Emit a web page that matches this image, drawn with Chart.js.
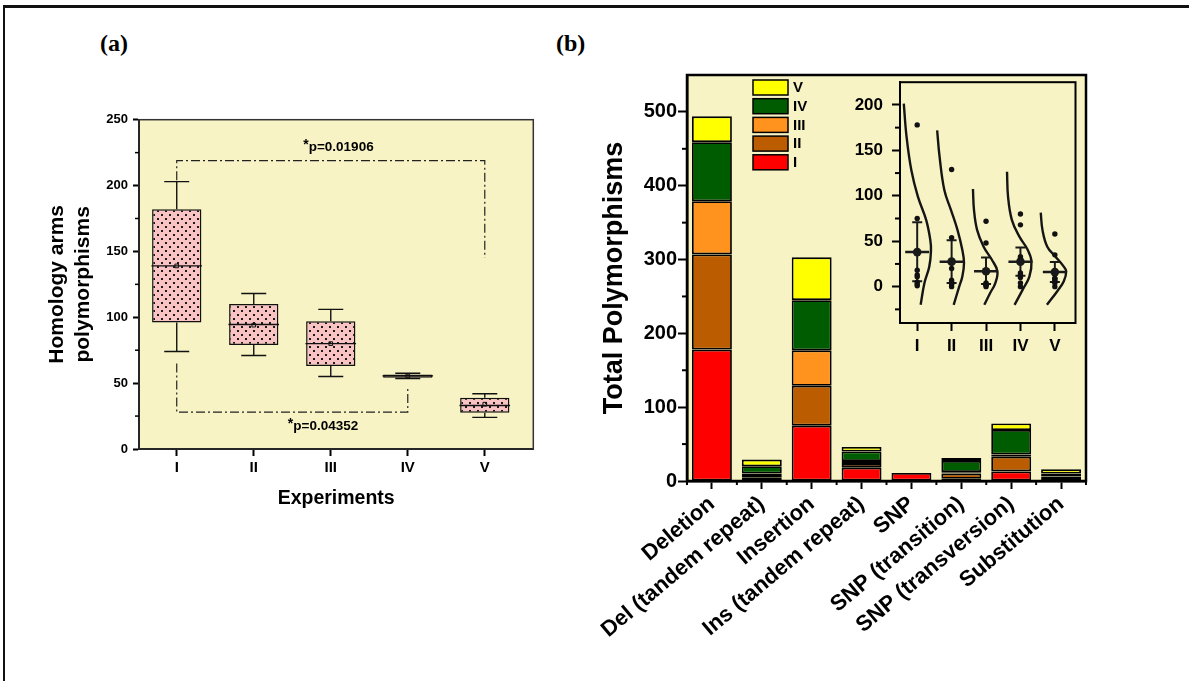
<!DOCTYPE html>
<html><head><meta charset="utf-8">
<script src="https://cdn.jsdelivr.net/npm/chart.js@4.4.1/dist/chart.umd.min.js"></script>
<style>
body{margin:0;background:#fff;width:1189px;height:681px;overflow:hidden;position:relative;font-family:'Liberation Sans',Arial,sans-serif;}
#frame{position:absolute;left:3px;top:5px;width:1300px;height:800px;border-top:3px solid #111;border-left:2px solid #111;}
.panel{position:absolute;font:bold 24px 'Liberation Serif','Times New Roman',serif;color:#000;}
canvas{position:absolute;}
</style></head><body>
<div id="frame"></div>
<div class="panel" style="left:100px;top:30px">(a)</div>
<div class="panel" style="left:556px;top:30px">(b)</div>
<canvas id="cA" width="520" height="427" style="left:40px;top:93px"></canvas>
<canvas id="cB" width="540" height="620" style="left:570px;top:60px"></canvas>
<canvas id="cC" width="255" height="302" style="left:835px;top:63px"></canvas>
<script>
// ---------- Panel (a) data ----------
const experiments = ['I', 'II', 'III', 'IV', 'V'];
const boxMin    = [74, 71, 55, 53.5, 24];
const boxQ1     = [96, 79, 63, 54, 27.5];
const boxMedian = [139, 94.5, 80, 55.5, 33];
const boxMean   = [139, 94, 80, 55.5, 34];
const boxQ3     = [182, 110, 97, 56.5, 39];
const boxMax    = [203, 118, 106, 57.5, 42];
const bracketTopX = [0, 0, 4, 4];
const bracketTopY = [204, 219, 219, 145];
const bracketBotX = [0, 0, 3, 3];
const bracketBotY = [65, 28, 28, 46];
const pTexts = ['p=0.01906', 'p=0.04352'];
const pTextX = [2.1, 1.9];
const pTextY = [229, 17];
const yTicksA = [0, 50, 100, 150, 200, 250];

// ---------- Panel (b) data ----------
const categories = ['Deletion', 'Del (tandem repeat)', 'Insertion', 'Ins (tandem repeat)', 'SNP', 'SNP (transition)', 'SNP (transversion)', 'Substitution'];
const expI   = [178, 5, 75, 18, 11, 3, 13, 1];
const expII  = [129, 3, 54, 5, 0, 7, 20, 3];
const expIII = [72, 2, 48, 4, 0, 2, 3, 2];
const expIV  = [80, 10, 68, 13, 0, 15, 33, 4];
const expV   = [35, 9, 58, 6, 0, 4, 9, 6];
const yTicksB = [0, 100, 200, 300, 400, 500];

// ---------- Inset data ----------
const insetMean    = [38, 27.5, 17, 27.5, 16];
const insetErrLow  = [6, 4, 3, 12, 5];
const insetErrHigh = [71, 51, 32, 43, 27];
const curveI_dx   = [-0.39, -0.31, -0.17, 0.02, 0.26, 0.38, 0.40, 0.35, 0.21, 0.10];
const curveI_y    = [201.5, 165, 128, 99, 73.5, 51.5, 39, 22, 4, -20];
const curveII_dx  = [-0.42, -0.35, -0.21, -0.02, 0.17, 0.31, 0.36, 0.31, 0.22, 0.06];
const curveII_y   = [172, 143, 106, 84.5, 62.5, 40.6, 26, 11, 0, -20];
const curveIII_dx = [-0.38, -0.35, -0.26, -0.07, 0.17, 0.33, 0.27, 0.12, -0.05];
const curveIII_y  = [107.5, 84.5, 62.5, 44, 29.6, 17, 4, -7, -20];
const curveIV_dx  = [-0.39, -0.36, -0.25, -0.03, 0.21, 0.32, 0.26, 0.07, -0.17];
const curveIV_y   = [126.5, 99, 73.5, 55, 40.6, 28, 11, -3, -20];
const curveV_dx   = [-0.41, -0.36, -0.22, 0.02, 0.26, 0.33, 0.26, 0.07, -0.23];
const curveV_y    = [81.5, 62.5, 44, 33, 22, 17, 6, -5, -20];
const yTicksC = [0, 50, 100, 150, 200];

// ---------- styling ----------
const FONT = "'Liberation Sans', Arial, sans-serif";
const PLOT_BG = '#f7f3c4';
const seriesColors = ['#ff0000', '#bb5c00', '#ff931e', '#005c00', '#ffff00'];
const seriesNames = ['I', 'II', 'III', 'IV', 'V'];

function makeFrame(fill, color, width) {
  return {
    id: 'frame',
    beforeDraw(chart) {
      const a = chart.chartArea, c = chart.ctx;
      c.save(); c.fillStyle = fill; c.fillRect(a.left, a.top, a.width, a.height); c.restore();
    },
    afterDraw(chart) {
      const a = chart.chartArea, c = chart.ctx;
      c.save(); c.strokeStyle = color; c.lineWidth = width; c.strokeRect(a.left, a.top, a.width, a.height); c.restore();
    }
  };
}
function makeMinorTicks(items) {
  return {
    id: 'minorTicks',
    afterDraw(chart) {
      const c = chart.ctx; c.save(); c.strokeStyle = '#000';
      items.forEach(it => {
        const s = chart.scales[it.scale]; c.lineWidth = it.width;
        it.values.forEach(v => {
          const p = s.getPixelForValue(v);
          c.beginPath();
          if (s.isHorizontal()) { c.moveTo(p, s.top); c.lineTo(p, s.top + it.length); }
          else { c.moveTo(s.right, p); c.lineTo(s.right - it.length, p); }
          c.stroke();
        });
      });
      c.restore();
    }
  };
}
function makeNotes() {
  return {
    id: 'notes',
    afterDatasetsDraw(chart) {
      const c = chart.ctx, xs = chart.scales.x, ys = chart.scales.y;
      c.save(); c.fillStyle = '#000'; c.textBaseline = 'middle';
      pTexts.forEach((t, i) => {
        const px = xs.getPixelForValue(pTextX[i]), py = ys.getPixelForValue(pTextY[i]);
        c.font = 'bold 13.5px ' + FONT;
        const w = c.measureText(t).width;
        c.font = 'bold 14px ' + FONT;
        const aw = c.measureText('*').width;
        const x0 = px - (w + aw) / 2;
        c.textAlign = 'left';
        c.fillText('*', x0, py - 2);
        c.font = 'bold 13.5px ' + FONT;
        c.fillText(t, x0 + aw, py);
      });
      c.restore();
    }
  };
}
function makeLegend() {
  return {
    id: 'boxLegend',
    afterDraw(chart) {
      const c = chart.ctx, a = chart.chartArea;
      const ds = chart.data.datasets.slice().reverse();
      c.save();
      ds.forEach((d, i) => {
        const x = a.left + 66, y = a.top + 5 + i * 18.7;
        c.fillStyle = d.backgroundColor; c.fillRect(x, y, 35, 15);
        c.strokeStyle = '#000'; c.lineWidth = 1.5; c.strokeRect(x, y, 35, 15);
        c.fillStyle = '#000'; c.font = 'bold 15px ' + FONT; c.textBaseline = 'middle'; c.textAlign = 'left';
        c.fillText(d.label, x + 40, y + 8);
      });
      c.restore();
    }
  };
}

// dotted pink pattern for boxes
const pc = document.createElement('canvas'); pc.width = 8; pc.height = 8;
const pg = pc.getContext('2d');
pg.fillStyle = '#f9c3c3'; pg.fillRect(0, 0, 8, 8);
pg.fillStyle = '#1a1a1a'; pg.fillRect(1, 1, 2, 2); pg.fillRect(5, 5, 2, 2);
const boxPattern = document.getElementById('cA').getContext('2d').createPattern(pc, 'repeat');

Chart.defaults.font.family = FONT;
Chart.defaults.color = '#000';

const axisGrid = (len, w) => ({ display: true, drawOnChartArea: false, drawTicks: true, tickLength: len, tickWidth: w, tickColor: '#000', offset: false });

// ---------- Chart A ----------
new Chart(document.getElementById('cA'), {
  type: 'bar',
  data: {
    datasets: [
      { type: 'bar', data: experiments.map((_, i) => ({ x: i, y: [boxQ1[i], boxQ3[i]] })),
        backgroundColor: boxPattern, borderColor: '#111', borderWidth: 1.5, borderSkipped: false,
        barPercentage: 0.8, categoryPercentage: 0.8, order: 10 },
      { type: 'line', data: experiments.flatMap((_, i) => [{ x: i, y: boxQ3[i] }, { x: i, y: boxMax[i] }, { x: i, y: NaN }, { x: i, y: boxQ1[i] }, { x: i, y: boxMin[i] }, { x: i, y: NaN }]),
        borderColor: '#111', borderWidth: 1.4, pointRadius: 0, spanGaps: false, order: 5 },
      { type: 'scatter', data: experiments.flatMap((_, i) => [{ x: i, y: boxMax[i] }, { x: i, y: boxMin[i] }]),
        pointStyle: 'line', pointRadius: 12.5, borderWidth: 1.4, borderColor: '#111', order: 4 },
      { type: 'scatter', data: experiments.map((_, i) => ({ x: i, y: boxMedian[i] })),
        pointStyle: 'line', pointRadius: 25.3, borderWidth: 1.4, borderColor: '#111', order: 3 },
      { type: 'scatter', data: experiments.map((_, i) => ({ x: i, y: boxMean[i] })),
        pointStyle: 'rect', pointRadius: 2.6, borderWidth: 1, borderColor: '#111', backgroundColor: 'rgba(0,0,0,0)', order: 2 },
      { type: 'line', data: bracketTopX.map((x, i) => ({ x, y: bracketTopY[i] })),
        borderColor: '#222', borderWidth: 1.2, borderDash: [9, 3, 2, 3], pointRadius: 0, tension: 0, order: 1 },
      { type: 'line', data: bracketBotX.map((x, i) => ({ x, y: bracketBotY[i] })),
        borderColor: '#222', borderWidth: 1.2, borderDash: [9, 3, 2, 3], pointRadius: 0, tension: 0, order: 1 }
    ]
  },
  options: {
    responsive: false, animation: false, devicePixelRatio: 1,
    layout: { padding: { left: 0, top: 19, right: 15, bottom: 0 } },
    plugins: { legend: { display: false }, tooltip: { enabled: false } },
    scales: {
      x: { type: 'linear', min: -0.49, max: 4.63, offset: false,
        afterBuildTicks: s => { s.ticks = experiments.map((_, i) => ({ value: i })); },
        afterFit: s => { s.height = 71; },
        ticks: { callback: v => experiments[v], font: { size: 15, weight: 'bold' }, padding: 3, color: '#000' },
        grid: axisGrid(7, 2), border: { display: true, color: '#000', width: 2 },
        title: { display: true, text: 'Experiments', font: { size: 19.5, weight: 'bold' }, padding: { top: 0, bottom: 10 }, color: '#000' } },
      y: { type: 'linear', min: 0, max: 250,
        afterBuildTicks: s => { s.ticks = yTicksA.map(v => ({ value: v })); },
        afterFit: s => { s.width = 99; },
        ticks: { font: { size: 13, weight: 'bold' }, padding: 5, color: '#000' },
        grid: axisGrid(6, 2), border: { display: true, color: '#000', width: 2 },
        title: { display: true, text: ['Homology arms', 'polymorphisms'], font: { size: 21, weight: 'bold', lineHeight: 1.2 }, padding: { top: 5, bottom: 0 }, color: '#000' } }
    }
  },
  plugins: [makeFrame(PLOT_BG, '#333', 1.5), makeMinorTicks([{ scale: 'y', values: [25, 75, 125, 175, 225], length: 4, width: 1.5 }]), makeNotes()]
});

// ---------- Chart B ----------
const seriesData = [expI, expII, expIII, expIV, expV];
new Chart(document.getElementById('cB'), {
  type: 'bar',
  data: {
    labels: categories,
    datasets: seriesData.map((d, i) => ({ label: seriesNames[i], data: d, backgroundColor: seriesColors[i],
      borderColor: '#000', borderWidth: 1.8, borderSkipped: false, categoryPercentage: 0.8, barPercentage: 1.0 }))
  },
  options: {
    responsive: false, animation: false, devicePixelRatio: 1,
    layout: { padding: { left: 0, top: 15, right: 24, bottom: 0 } },
    plugins: { legend: { display: false }, tooltip: { enabled: false } },
    scales: {
      x: { type: 'category', stacked: true, offset: true,
        afterFit: s => { s.height = 199; },
        ticks: { minRotation: 40, maxRotation: 40, autoSkip: false, font: { size: 22, weight: 'bold' }, padding: 2, color: '#000' },
        grid: axisGrid(8, 2), border: { display: true, color: '#000', width: 2.5 } },
      y: { type: 'linear', stacked: true, min: 0, max: 550,
        afterBuildTicks: s => { s.ticks = yTicksB.map(v => ({ value: v })); },
        afterFit: s => { s.width = 117; },
        ticks: { font: { size: 20, weight: 'bold' }, padding: 1, color: '#000' },
        grid: axisGrid(9, 2), border: { display: true, color: '#000', width: 2.5 },
        title: { display: true, text: 'Total Polymorphisms', font: { size: 27, weight: 'bold' }, padding: { top: 28, bottom: 0 }, color: '#000' } }
    }
  },
  plugins: [makeFrame(PLOT_BG, '#000', 2.5),
    makeMinorTicks([{ scale: 'y', values: [50, 150, 250, 350, 450], length: 5, width: 2 },
                    { scale: 'x', values: [-0.5, 0.5, 1.5, 2.5, 3.5, 4.5, 5.5, 6.5, 7.5], length: 4, width: 2 }]),
    makeLegend()]
});

// ---------- Inset ----------
const groupValues = [expI, expII, expIII, expIV, expV];
const curves = [[curveI_dx, curveI_y], [curveII_dx, curveII_y], [curveIII_dx, curveIII_y], [curveIV_dx, curveIV_y], [curveV_dx, curveV_y]];
new Chart(document.getElementById('cC'), {
  type: 'scatter',
  data: {
    datasets: [
      { data: groupValues.flatMap((vals, g) => vals.map(v => ({ x: g, y: v }))),
        pointRadius: 2.7, backgroundColor: '#111', borderWidth: 0 },
      { data: experiments.flatMap((_, g) => [{ x: g, y: insetErrLow[g] }, { x: g, y: insetErrHigh[g] }, { x: g, y: NaN }]),
        showLine: true, spanGaps: false, borderColor: '#1a1a1a', borderWidth: 2, pointRadius: 0 },
      { data: experiments.flatMap((_, g) => [{ x: g, y: insetErrLow[g] }, { x: g, y: insetErrHigh[g] }]),
        pointStyle: 'line', pointRadius: 5, borderWidth: 2, borderColor: '#1a1a1a' },
      { data: experiments.map((_, g) => ({ x: g, y: insetMean[g] })),
        pointStyle: 'line', pointRadius: 12, borderWidth: 2.5, borderColor: '#1a1a1a' },
      { data: experiments.map((_, g) => ({ x: g, y: insetMean[g] })),
        pointStyle: 'circle', pointRadius: 4.3, backgroundColor: '#1a1a1a', borderWidth: 0 },
      ...curves.map(([dx, ys], g) => ({
        data: dx.map((d, k) => ({ x: g + d, y: ys[k] })),
        showLine: true, tension: 0.4, pointRadius: 0, borderWidth: 2.4, borderColor: '#151515' }))
    ]
  },
  options: {
    responsive: false, animation: false, devicePixelRatio: 1,
    layout: { padding: { left: 0, top: 7, right: 12, bottom: 0 } },
    plugins: { legend: { display: false }, tooltip: { enabled: false } },
    scales: {
      x: { type: 'linear', min: -0.5, max: 4.6,
        afterBuildTicks: s => { s.ticks = experiments.map((_, i) => ({ value: i })); },
        afterFit: s => { s.height = 42; },
        ticks: { callback: v => experiments[v], font: { size: 17, weight: 'bold' }, padding: 5, color: '#000' },
        grid: axisGrid(8, 2), border: { display: true, color: '#000', width: 2 } },
      y: { type: 'linear', min: -40, max: 225,
        afterBuildTicks: s => { s.ticks = yTicksC.map(v => ({ value: v })); },
        afterFit: s => { s.width = 65; },
        ticks: { font: { size: 17, weight: 'bold' }, padding: 9, color: '#000' },
        grid: axisGrid(8, 2), border: { display: true, color: '#000', width: 2 } }
    }
  },
  plugins: [makeFrame(PLOT_BG, '#000', 2), makeMinorTicks([{ scale: 'y', values: [-25, 25, 75, 125, 175], length: 5, width: 2 }])]
});
</script>
</body></html>
